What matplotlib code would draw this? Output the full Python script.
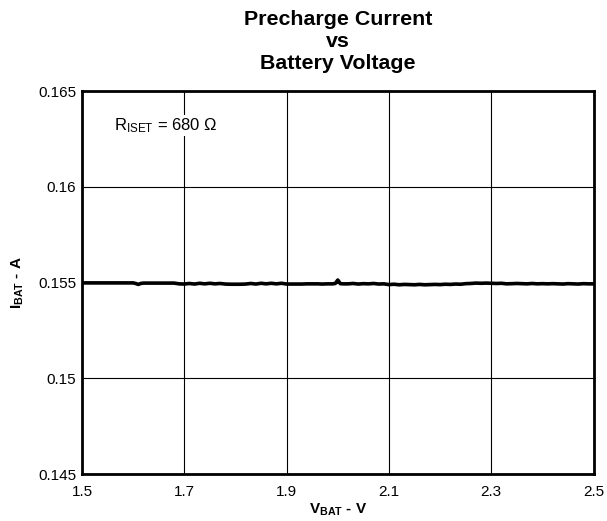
import matplotlib
matplotlib.use("Agg")
import matplotlib.pyplot as plt

plt.rcParams['font.family'] = ['Liberation Sans', 'DejaVu Sans']
plt.rcParams['mathtext.default'] = 'regular'

v_bat = [1.50, 1.51, 1.52, 1.53, 1.54, 1.55, 1.56, 1.57, 1.58, 1.59,
         1.60, 1.605, 1.61, 1.615, 1.62, 1.63, 1.64, 1.65, 1.66, 1.67, 1.68,
         1.69, 1.70, 1.71, 1.72, 1.73, 1.74, 1.75, 1.76, 1.77, 1.78, 1.79,
         1.80, 1.81, 1.82, 1.83, 1.84, 1.85, 1.86, 1.87, 1.88, 1.89, 1.90,
         1.91, 1.92, 1.93, 1.94, 1.95, 1.96, 1.97, 1.98, 1.99, 1.995, 2.00, 2.005,
         2.01, 2.02, 2.03, 2.04, 2.05, 2.06, 2.07, 2.08, 2.09, 2.10,
         2.11, 2.12, 2.13, 2.14, 2.15, 2.16, 2.17, 2.18, 2.19, 2.20,
         2.21, 2.22, 2.23, 2.24, 2.25, 2.26, 2.27, 2.28, 2.29, 2.30,
         2.31, 2.32, 2.33, 2.34, 2.35, 2.36, 2.37, 2.38, 2.39, 2.40,
         2.41, 2.42, 2.43, 2.44, 2.45, 2.46, 2.47, 2.48, 2.49, 2.50]
i_bat = [0.15498, 0.15498, 0.15498, 0.15498, 0.15498, 0.15498, 0.15498, 0.15498, 0.15498, 0.15498,
         0.15498, 0.15495, 0.15490, 0.15495, 0.15497, 0.15497, 0.15497, 0.15497, 0.15497, 0.15497, 0.15497,
         0.15493, 0.15492, 0.15495, 0.15492, 0.15496, 0.15493, 0.15496, 0.15493, 0.15495, 0.15492, 0.15491,
         0.15491, 0.15491, 0.15492, 0.15495, 0.15492, 0.15496, 0.15493, 0.15496, 0.15493, 0.15496, 0.15492,
         0.15492, 0.15492, 0.15492, 0.15493, 0.15493, 0.15493, 0.15492, 0.15493, 0.15493, 0.15495, 0.15513, 0.15494,
         0.15493, 0.15493, 0.15495, 0.15492, 0.15494, 0.15493, 0.15495, 0.15492, 0.15493, 0.15489,
         0.15491, 0.15488, 0.15490, 0.15489, 0.15488, 0.15490, 0.15488, 0.15489, 0.15490, 0.15489,
         0.15491, 0.15490, 0.15492, 0.15491, 0.15494, 0.15495, 0.15497, 0.15496, 0.15497, 0.15496,
         0.15495, 0.15496, 0.15493, 0.15494, 0.15495, 0.15494, 0.15493, 0.15495, 0.15493, 0.15494,
         0.15493, 0.15494, 0.15493, 0.15492, 0.15494, 0.15493, 0.15492, 0.15494, 0.15493, 0.15493]

x_ticks = [1.5, 1.7, 1.9, 2.1, 2.3, 2.5]
y_ticks = [0.145, 0.15, 0.155, 0.16, 0.165]
y_tick_labels = ['0.145', '0.15', '0.155', '0.16', '0.165']

fig = plt.figure(figsize=(6.07, 5.21), dpi=100)
ax = fig.add_axes([0.135, 0.0902, 0.843, 0.7351])
ax.plot(v_bat, i_bat, color='black', linewidth=2.6)
ax.set_xlim(1.5, 2.5)
ax.set_ylim(0.145, 0.165)
ax.set_xticks(x_ticks)
ax.set_xticklabels([f'{t:.1f}' for t in x_ticks])
ax.set_yticks(y_ticks)
ax.set_yticklabels(y_tick_labels)
ax.tick_params(length=0, labelsize=11)
ax.tick_params(axis='x', pad=8)
ax.tick_params(axis='y', pad=4)
ax.grid(True, color='black', linewidth=0.8)
for s in ax.spines.values():
    s.set_linewidth(2)
ax.set_xlabel(r'V$_{BAT}$ - V', fontsize=11, fontweight='bold', labelpad=2)
ax.set_ylabel(r'I$_{BAT}$ - A', fontsize=11, fontweight='bold', labelpad=9)
ax.set_title('Precharge Current\nvs\nBattery Voltage', fontsize=15.4, fontweight='bold',
             linespacing=1.18, pad=16)
ax.text(1.563, 0.16295, r'R$_{ISET}$ = 680 Ω', fontsize=12, va='baseline', ha='left',
        bbox=dict(facecolor='white', edgecolor='none', pad=1))
fig.savefig('out.png', dpi=100)
